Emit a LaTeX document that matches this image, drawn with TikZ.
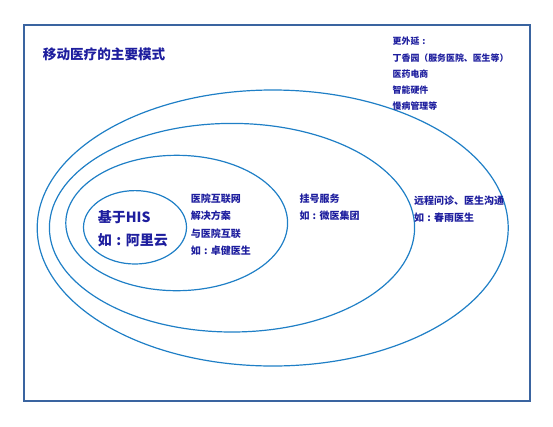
\documentclass[tikz,border=0pt]{standalone}
\usepackage{fontspec}
\setmainfont{Noto Sans CJK SC}
\newcommand\midcolon{\hbox to 1em{\hss:\hss}}
\definecolor{txtblue}{HTML}{1E1E9E}
\definecolor{ellblue}{HTML}{1F7FC6}
\definecolor{framecol}{HTML}{3A64A0}
\begin{document}
\begin{tikzpicture}[x=1pt,y=-1pt,
  ring/.style={draw=ellblue,line width=1.2pt},
  lbl/.style={anchor=west,inner sep=0pt,text=txtblue,font=\bfseries\fontsize{10}{12}\selectfont},
  small/.style={lbl,font=\bfseries\fontsize{8.9}{11}\selectfont},
  big/.style={lbl,font=\bfseries\fontsize{14}{16}\selectfont}]
\useasboundingbox (0,0) rectangle (553,426);
\draw[framecol,line width=1.6pt] (24,25) rectangle (530,401);
\draw[ring] (272.7,228) ellipse [x radius=235.5,y radius=138];
\draw[ring] (232,227.7) ellipse [x radius=182.6,y radius=104.3];
\draw[ring] (176.7,223) ellipse [x radius=110.9,y radius=67.7];
\draw[ring] (135,227.3) ellipse [x radius=51.5,y radius=36.7];
\node[lbl,font=\bfseries\fontsize{13.6}{16}\selectfont] (title) at (42.7,54) {移动医疗的主要模式};
\node[small] (e1) at (392.5,41) {更外延\midcolon};
\node[small] (e2) at (392.5,57.7) {丁香园（服务医院、医生等）};
\node[small] (e3) at (392.5,74.3) {医药电商};
\node[small] (e4) at (392.5,90.3) {智能硬件};
\node[small] (e5) at (392.5,106) {慢病管理等};
\node[big] (h1) at (97.6,217) {基于HIS};
\node[big] (h2) at (97.6,240.5) {如\midcolon 阿里云};
\node[lbl] (a1) at (190.6,199) {医院互联网};
\node[lbl] (a2) at (190.6,216) {解决方案};
\node[lbl] (a3) at (190.6,233.3) {与医院互联};
\node[lbl] (a4) at (190.6,250.7) {如\midcolon 卓健医生};
\node[lbl] (b1) at (299.3,198.7) {挂号服务};
\node[lbl] (b2) at (299.3,215.7) {如\midcolon 微医集团};
\node[lbl] (c1) at (414,200.7) {远程问诊、医生沟通};
\node[lbl] (c2) at (414,218) {如\midcolon 春雨医生};
\end{tikzpicture}
\end{document}
